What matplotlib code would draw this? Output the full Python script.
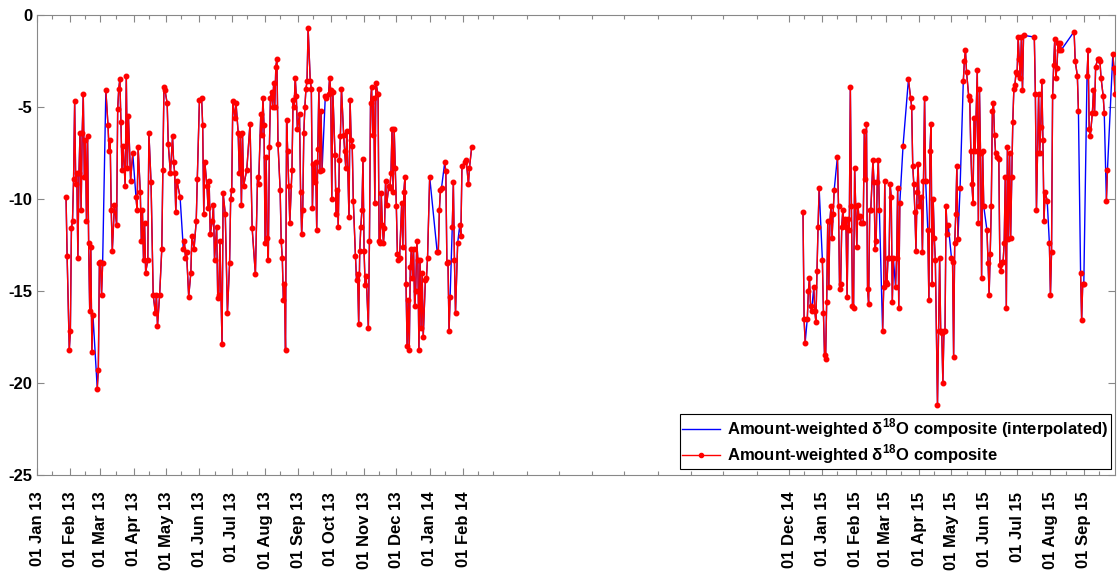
import numpy as np
import pandas as pd
import matplotlib
matplotlib.use("Agg")
import matplotlib.pyplot as plt
import matplotlib.dates as mdates
from matplotlib.ticker import FixedLocator

plt.rcParams['font.family'] = ['Liberation Sans', 'DejaVu Sans']
plt.rcParams['font.weight'] = 'bold'
plt.rcParams['axes.unicode_minus'] = False
plt.rcParams['mathtext.fontset'] = 'custom'
plt.rcParams['mathtext.rm'] = 'Liberation Sans:bold'
plt.rcParams['mathtext.bf'] = 'Liberation Sans:bold'

nan = np.nan
start = np.datetime64('2013-01-01')

# first campaign, day number counted from 01 Jan 2013 (NaN = no sample)
days_a = [27, 28, 30, 31, 32, 33, 34, 35, 36, 37, 38, 39, 40, 41, 42, 43, 44, 45, 46, 47,
          48, 49, 50, 51, 52, 54, 56, 57, 58, 59, 60, 61, 62, 64, 66, 67, 68, 69, 70, 72,
          74, 75, 76, 77, 78, 79, 80, 82, 83, 84, 85, 87, 89, 90, 92, 93, 94, 96, 97, 98,
          99, 100, 101, 103, 104, 106, 108, 110, 111, 112, 114, 116, 117, 118, 119, 121, 122, 124, 126, 127,
          128, 129, 130, 133, 134, 136, 137, 138, 139, 141, 143, 144, 146, 148, 149, 151, 153, 154, 155, 156,
          158, 159, 160, 161, 163, 164, 165, 167, 168, 169, 170, 172, 173, 175, 177, 179, 180, 181, 182, 184,
          185, 187, 188, 189, 190, 191, 192, 195, 198, 200, 203, 205, 206, 208, 209, 210, 211, 212, 213, 214,
          215, 216, 217, 218, 219, 220, 221, 222, 223, 224, 226, 227, 228, 229, 230, 231, 232, 233, 234, 235,
          237, 238, 239, 240, 241, 242, 244, 245, 246, 247, 248, 249, 250, 251, 252, 254, 255, 256, 257, 258,
          259, 260, 261, 262, 263, 264, 265, 266, 268, 269, 271, 272, 273, 274, 275, 277, 278, 279, 280, 281,
          282, 283, 285, 286, 287, 288, 290, 291, 292, 293, 294, 296, 297, 298, 299, 300, 301, 302, 303, 304,
          305, 306, 308, 309, 310, 311, 312, 313, 314, 315, 317, 318, 319, 320, 321, 322, 323, 324, 325, 327,
          328, 329, 330, 331, 332, 333, 334, 335, 336, 337, 339, 340, 341, 342, 343, 344, 345, 346, 347, 348,
          349, 350, 351, 352, 353, 354, 355, 356, 357, 358, 359, 361, 362, 363, 365, 367, 372, 373, 374, 375,
          376, 377, 379, 380, 381, 382, 383, 384, 385, 386, 387, 388, 389, 391, 392, 393, 394, 395, 398, 399,
          401, 402, 404]
d18o_a = [-9.9, -13.1, -18.2, -17.2, -11.6, -11.2, -8.9, -4.7, -9.2, -8.6, -13.2, -8.6, -6.4, -10.6, -6.4, -4.3, -8.8, -6.8, -11.2, -6.6,
          -12.4, -16.1, -12.6, -18.3, -16.3, nan, -20.3, -19.3, -13.5, -13.4, -15.2, -13.5, nan, -4.1, -6.0, -7.4, -6.8, -10.6, -12.8, -10.3,
          -11.4, -5.1, -4.0, -3.5, -5.8, -8.4, -7.1, -9.3, -3.3, -8.3, -5.5, -9.0, -7.5, nan, -9.9, -10.6, -7.2, -9.6, -12.3, -10.6,
          -13.3, -11.3, -14.0, -13.3, -6.4, -9.1, -15.2, -16.2, -15.2, -16.9, -15.2, -12.7, -8.4, -3.9, -4.1, -4.8, -7.0, -8.6, -6.6, -8.0,
          -8.6, -10.7, -9.0, -9.9, nan, -12.7, -12.3, -13.2, -12.9, -15.3, -14.0, -12.0, -12.7, -11.2, -8.9, -4.6, -4.5, -6.0, -10.8, -8.0,
          -9.3, -10.5, -9.0, -11.9, -11.2, -10.3, -13.3, -11.5, -15.4, -15.2, -12.3, -17.9, -9.7, -10.8, -16.2, -13.5, -10.0, -9.5, -4.7, -5.6,
          -4.8, -6.4, -8.6, -6.5, -10.3, -6.4, -9.3, -8.4, -5.9, -11.6, -14.1, -8.8, -9.2, -5.4, -6.5, -4.5, -6.0, -12.4, -7.7, -12.1,
          -13.3, -7.2, -4.5, -4.2, -5.0, -3.7, -5.0, -2.8, -2.4, -7.0, -9.5, -12.3, -13.2, -15.5, -14.6, -18.2, -5.7, -7.4, -9.3, -11.3,
          -8.4, -4.6, -5.0, -3.4, -4.4, -6.2, -5.4, -9.6, -11.9, -10.6, -6.4, -5.0, -4.0, -3.6, -0.7, -3.6, -4.0, -10.5, -8.1, -9.1,
          -8.0, -11.7, -7.3, -4.0, -8.5, -5.2, -8.4, nan, -4.4, -4.5, -4.3, -3.4, -4.1, -10.0, -4.2, -7.6, -10.8, -9.5, -11.5, -7.9,
          -6.6, -4.0, -6.5, -7.4, -8.3, -6.3, -11.0, -4.6, -6.8, -7.1, -10.1, -13.1, -14.4, -14.1, -16.8, -12.8, -11.5, -10.6, -7.8, -12.8,
          -14.7, -14.2, -17.0, -12.3, -4.8, -3.9, -6.5, -4.5, -10.2, -3.7, -4.3, -12.3, -12.4, -9.7, -11.4, -12.4, -11.6, -9.0, -10.3, -9.3,
          -9.4, -8.6, -6.2, -9.6, -6.2, -8.3, -10.4, -13.0, -13.3, -13.2, -10.2, -12.6, -9.6, -8.8, -14.6, -18.0, -15.5, -18.2, -13.7, -12.7,
          -14.3, -12.7, -15.8, -15.0, -12.3, -13.3, -18.2, -13.3, -17.0, -14.0, -17.5, -14.4, -14.3, -13.2, -8.8, nan, -12.9, -12.9, -10.6, -9.5,
          -9.4, nan, -8.0, -8.5, -13.5, -13.4, -17.2, -15.3, nan, -11.5, -9.1, -13.3, -16.2, -12.4, nan, -11.4, -12.0, -8.2, -8.0, -7.9,
          -9.2, -8.3, -7.2]

# second campaign
days_b = [712, 713, 714, 715, 716, 717, 718, 719, 720, 721, 722, 723, 724, 725, 726, 727, 728, 730, 731, 732,
          733, 734, 735, 736, 737, 738, 739, 740, 741, 742, 744, 745, 746, 747, 748, 749, 750, 751, 752, 753,
          754, 755, 756, 757, 758, 759, 760, 761, 762, 763, 764, 765, 766, 768, 769, 770, 771, 772, 773, 774,
          775, 777, 778, 779, 780, 781, 782, 783, 784, 786, 787, 788, 789, 790, 791, 792, 793, 794, 795, 796,
          797, 798, 799, 800, 801, 802, 803, 805, 806, 810, 812, 813, 814, 815, 816, 817, 818, 819, 820, 822,
          823, 824, 825, 826, 827, 828, 829, 830, 831, 832, 833, 834, 835, 837, 838, 839, 840, 841, 842, 843,
          844, 845, 846, 847, 848, 850, 851, 852, 853, 854, 855, 856, 857, 858, 859, 861, 862, 863, 864, 866,
          867, 868, 869, 870, 871, 872, 874, 875, 876, 877, 878, 879, 880, 881, 883, 884, 885, 886, 887, 888,
          889, 890, 891, 892, 894, 895, 896, 897, 898, 899, 900, 901, 902, 903, 904, 905, 906, 907, 908, 909,
          910, 911, 912, 913, 914, 915, 916, 917, 918, 927, 928, 929, 930, 931, 932, 933, 934, 935, 936, 937,
          939, 940, 941, 942, 943, 944, 945, 946, 947, 948, 949, 950, 951, 952, 953, 964, 965, 967, 968, 969,
          970, 971, 972, 973, 974, 976, 977, 978, 979, 981, 982, 983, 984, 986, 987, 988, 989, 991, 992, 993,
          994, 995, 996, 1000, 1001, 1002, 1003]
d18o_b = [-10.7, -16.5, -17.8, nan, -16.5, -15.0, -14.3, -15.8, -16.1, nan, -14.8, -16.1, -16.7, -13.9, -11.5, -9.4, nan, -13.3, -16.2, -18.5,
          -18.7, -15.6, -11.2, -14.8, -11.2, -10.4, -12.1, -10.8, -9.5, nan, -7.7, -10.4, -14.9, -14.6, -11.5, -10.6, -11.3, -11.1, -11.5, -15.3,
          -11.1, -11.7, -3.9, -10.4, -15.8, -15.9, -8.3, -10.4, -12.6, -10.3, -11.0, -10.9, -11.3, -11.3, -6.3, -8.9, -5.9, -14.9, -15.7, -10.6,
          -10.6, -7.9, -9.1, -12.7, -12.3, -9.1, -7.9, -10.6, nan, -17.2, -14.8, -9.0, -14.5, -14.6, -13.2, -13.2, -9.2, -9.9, -15.6, -13.2,
          nan, -14.8, -13.2, -9.4, -15.9, -10.2, nan, -7.1, nan, -3.5, -4.5, -5.0, -8.2, -9.2, -10.7, -12.8, -9.6, -8.1, -10.4, -9.9,
          -12.9, -9.0, -4.5, -9.0, nan, -11.7, -15.5, -7.4, -5.9, -14.6, -10.0, -12.1, -13.3, -21.2, -17.2, -13.2, -17.2, -17.3, -20.0, -17.2,
          -17.2, -10.4, -11.9, -11.4, nan, -13.2, -13.4, -18.6, -12.4, -10.8, -8.2, -12.2, nan, -9.4, nan, -3.6, -2.5, -1.9, -3.1, -4.4,
          -4.6, -7.4, -9.2, -10.2, -5.6, -7.4, -3.0, -11.3, -4.0, -7.5, -14.3, -7.4, -10.4, nan, -11.7, -13.5, -15.2, -13.0, -10.4, -5.2,
          -4.8, -6.5, -7.5, -7.7, -7.8, -13.6, -13.9, -13.4, -13.4, -12.4, -8.8, -15.9, -7.2, -12.2, -7.5, -12.1, -8.8, -5.8, -4.0, -3.8,
          -3.1, -3.2, -1.2, -2.4, -3.4, -1.2, -4.1, -1.1, nan, -1.2, -4.3, -10.6, -7.5, -4.3, -7.5, -6.1, -3.6, -6.8, -11.2, -9.6,
          -10.1, nan, -12.4, -15.2, -12.9, -4.4, -2.7, -1.3, -3.4, -2.9, -1.5, -1.9, -1.5, -1.9, nan, -0.9, -2.5, -3.3, -5.2, nan,
          -14.0, -16.6, -14.6, -14.6, nan, -3.3, -1.9, -6.2, -6.6, -5.3, -4.1, -5.3, -2.8, -2.4, -2.4, -2.5, -3.4, -4.4, -5.3, nan,
          -10.1, -8.4, nan, -2.1, -2.9, -4.3, -3.1]

labelled_months = list(pd.date_range('2013-01-01', '2014-02-01', freq='MS')) + \
                  list(pd.date_range('2014-12-01', '2015-09-01', freq='MS'))
empty_months = list(pd.date_range('2014-03-01', '2014-11-01', freq='MS'))

fig = plt.figure(figsize=(11.19, 5.71), dpi=100)
ax = fig.add_axes([37 / 1119, 1 - 475 / 571, (1115 - 37) / 1119, (475 - 15) / 571])

for days, vals in [(days_a, d18o_a), (days_b, d18o_b)]:
    t = start + np.array(days).astype('timedelta64[D]')
    v = np.array(vals)
    ok = ~np.isnan(v)
    ax.plot(t[ok], v[ok], color='#0000ff', lw=1.0, zorder=2)
    ax.plot(t, v, color='#ff0000', lw=1.0, marker='.', ms=6.5, zorder=3)

ax.plot([], [], color='#0000ff', lw=1.0,
        label=r'Amount-weighted δ$^{\mathbf{18}}$O composite (interpolated)')
ax.plot([], [], color='#ff0000', lw=1.0, marker='.', ms=6,
        label=r'Amount-weighted δ$^{\mathbf{18}}$O composite')

ax.set_xlim(start, np.datetime64('2015-09-30'))
ax.set_ylim(-25, 0)
ax.set_yticks([-25, -20, -15, -10, -5, 0])

major = mdates.date2num(labelled_months)
minor = mdates.date2num([m + pd.Timedelta(days=14) for m in labelled_months] + empty_months)
ax.xaxis.set_major_locator(FixedLocator(major))
ax.xaxis.set_minor_locator(FixedLocator(minor))
ax.xaxis.set_major_formatter(mdates.DateFormatter('%d %b %y'))

ax.tick_params(which='both', direction='in', top=True, right=True, color='#888888', width=0.8)
ax.tick_params(which='major', length=5, labelsize=12)
ax.tick_params(which='minor', length=3)
ax.tick_params(axis='x', which='major', pad=12)
for lbl in ax.get_xticklabels():
    lbl.set_rotation(90)
    lbl.set_fontweight('bold')
for lbl in ax.get_yticklabels():
    lbl.set_fontweight('bold')
for sp in ax.spines.values():
    sp.set_color('#888888')

leg = ax.legend(loc='lower right', bbox_to_anchor=(1111 / 1119, 1 - 469 / 571),
                bbox_transform=fig.transFigure, borderaxespad=0, fancybox=False,
                framealpha=1, edgecolor='black', prop={'size': 12, 'weight': 'bold'},
                handlelength=2.3, handletextpad=0.4, borderpad=0.15, labelspacing=0.15)
leg.get_frame().set_linewidth(0.8)

fig.savefig('out.png', dpi=100)
